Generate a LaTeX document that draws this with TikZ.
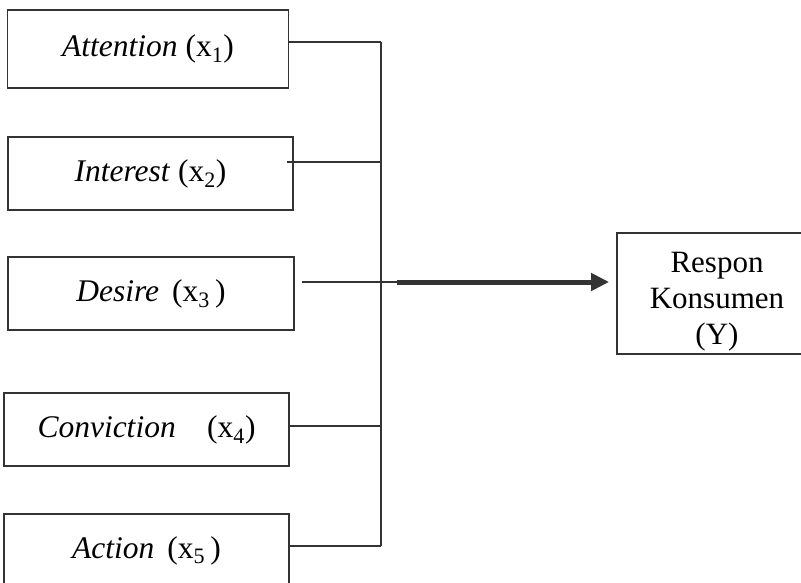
\documentclass[tikz,border=0pt]{standalone}
\usepackage{fontspec}
\setmainfont{Liberation Serif}
\usetikzlibrary{arrows.meta,positioning}

\begin{document}
\begin{tikzpicture}[
  x=1pt, y=-1pt,
  >={Triangle[length=18pt,width=17pt]},
  box/.style={draw=black!80, line width=1.8pt, minimum width=281pt, minimum height=73pt,
    inner sep=0pt, font=\fontsize{31.5}{34}\selectfont},
  line/.style={draw=black!80, line width=1.8pt}]

\useasboundingbox (0,0) rectangle (801,582);

\node[box, minimum height=78pt] (att) at (148,49) {\raisebox{3pt}{\textit{Attention} (x\textsubscript{1})}};
\node[box, minimum width=285pt] (int) at (150.5,173.5) {\textit{Interest} (x\textsubscript{2})};
\node[box, minimum width=286pt] (des) at (151,293.5) {\textit{Desire}\, (x\textsubscript{3}\,)};
\node[box, minimum width=285pt] (con) at (146.5,429.5) {\textit{Conviction}\quad(x\textsubscript{4})};
\node[box, minimum width=285pt] (act) at (146.5,550.5) {\textit{Action}\, (x\textsubscript{5}\,)};

\node[draw=black!80, line width=1.8pt, minimum width=200pt, minimum height=121pt,
  align=center, font=\fontsize{31}{36}\selectfont] (resp) at (717,293.5)
  {\rule{0pt}{36pt}Respon\\Konsumen\\(Y)};

% titik pertemuan pada garis tegak
\coordinate (j1) at (381,42);
\coordinate (j2) at (381,162);
\coordinate (j3) at (397,282);
\coordinate (j4) at (381,426);
\coordinate (j5) at (381,546);

\draw[line] ([yshift=7pt]att.east) -- (j1);
\draw[line] ([xshift=-7pt,yshift=11.5pt]int.east) -- (j2);
\draw[line] ([xshift=7pt,yshift=11.5pt]des.east) -- (j3);
\draw[line] ([yshift=3.5pt]con.east) -- (j4);
\draw[line] ([yshift=4.5pt]act.east) -- (j5);
\draw[line] (j1) -- (j5);

\draw[line, line width=5pt, ->, shorten >=7pt] (j3) -- (j3 -| resp.west);

\end{tikzpicture}
\end{document}
